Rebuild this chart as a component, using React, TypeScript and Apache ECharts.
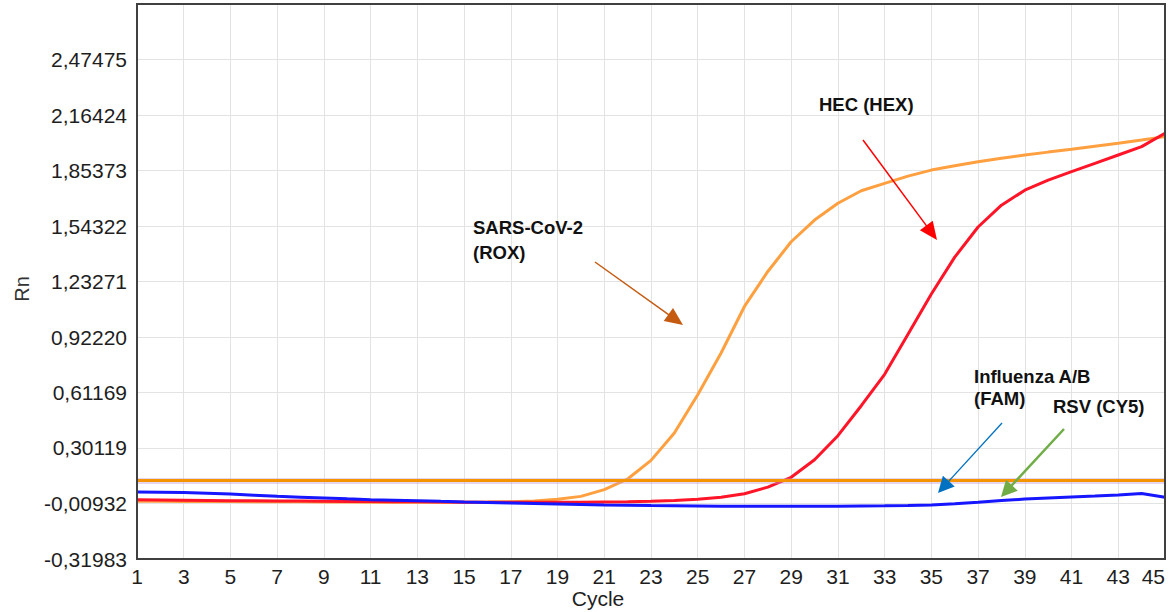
import React, { useEffect, useRef } from "react";
import * as echarts from "echarts";

// ---------- DATA ----------
const CYCLES = [
  "1", "2", "3", "4", "5", "6", "7", "8", "9", "10",
  "11", "12", "13", "14", "15", "16", "17", "18", "19", "20",
  "21", "22", "23", "24", "25", "26", "27", "28", "29", "30",
  "31", "32", "33", "34", "35", "36", "37", "38", "39", "40",
  "41", "42", "43", "44", "45",
];

const Y_MIN = -0.31983;
const Y_MAX = 2.78526;
const Y_TICKS = [-0.31983, -0.00932, 0.30119, 0.61169, 0.9222, 1.23271, 1.54322, 1.85373, 2.16424, 2.47475];

const THRESHOLD = 0.12;

// SARS-CoV-2 (ROX)
const ROX = [
  0.0037, 0.0031, 0.0025, 0.002, 0.0014, 0.0009, 0.0003, -0.0002, -0.0008, -0.0013,
  -0.0017, -0.0019, -0.002, -0.002, -0.0019, -0.0012, 0.0009, 0.0048, 0.0149, 0.0305,
  0.068, 0.1278, 0.2319, 0.3851, 0.5993, 0.8325, 1.0931, 1.2889, 1.455, 1.5763,
  1.6703, 1.7402, 1.7816, 1.8224, 1.856, 1.88, 1.903, 1.922, 1.9404, 1.9566,
  1.9723, 1.9891, 2.0059, 2.0238, 2.0433,
];

// HEC (HEX)
const HEX = [
  0.0121, 0.0107, 0.0093, 0.0079, 0.0065, 0.0056, 0.0048, 0.004, 0.0031, 0.0023,
  0.0015, 0.0006, -0.0002, -0.0011, -0.0019, -0.0022, -0.0025, -0.0025, -0.0025, -0.0019,
  -0.0008, 0.0003, 0.0026, 0.0076, 0.0149, 0.026, 0.0456, 0.082, 0.1373, 0.2358,
  0.37, 0.5378, 0.7134, 0.9382, 1.163, 1.3688, 1.5377, 1.6597, 1.7436, 1.8,
  1.847, 1.8934, 1.9404, 1.9874, 2.0623,
];

// Influenza A/B (FAM) / RSV (CY5)
const FAM_CY5 = [
  0.0551, 0.054, 0.0529, 0.0484, 0.044, 0.0373, 0.0306, 0.0261, 0.0216, 0.0166,
  0.0121, 0.0093, 0.0065, 0.0026, -0.0008, -0.0036, -0.0064, -0.0092, -0.012, -0.0148,
  -0.0176, -0.0193, -0.021, -0.0221, -0.0232, -0.0243, -0.0249, -0.0254, -0.0254, -0.0254,
  -0.0249, -0.0238, -0.0226, -0.0204, -0.0171, -0.0104, -0.0025, 0.007, 0.0154, 0.0221,
  0.0277, 0.0327, 0.0383, 0.0467, 0.0261,
];

// ---------- LAYOUT ----------
const W = 1173;
const H = 612;
const GRID = { left: 137, top: 4, right: 8, bottom: 53 };
const FONT = '"Liberation Sans", Arial, sans-serif';

function arrow(x1: number, y1: number, x2: number, y2: number, color: string, width: number, headLen: number, headHalf: number) {
  const dx = x2 - x1;
  const dy = y2 - y1;
  const len = Math.hypot(dx, dy);
  const ux = dx / len;
  const uy = dy / len;
  const bx = x2 - ux * headLen;
  const by = y2 - uy * headLen;
  const px = -uy;
  const py = ux;
  return [
    {
      type: "line",
      z: 100,
      silent: true,
      shape: { x1, y1, x2: bx + ux * 2, y2: by + uy * 2 },
      style: { stroke: color, lineWidth: width },
    },
    {
      type: "polygon",
      z: 100,
      silent: true,
      shape: {
        points: [
          [x2, y2],
          [bx + px * headHalf, by + py * headHalf],
          [bx - px * headHalf, by - py * headHalf],
        ],
      },
      style: { fill: color },
    },
  ];
}

function label(text: string, x: number, y: number, lineHeight: number) {
  return {
    type: "text",
    z: 100,
    silent: true,
    x,
    y,
    style: {
      text,
      fill: "#111",
      font: `bold 18.5px ${FONT}`,
      fontFamily: FONT,
      fontWeight: "bold",
      fontSize: 18.5,
      lineHeight,
      align: "left",
      verticalAlign: "top",
      textAlign: "left",
      textVerticalAlign: "top",
    },
  };
}

export default function App() {
  const ref = useRef<HTMLDivElement>(null);

  useEffect(() => {
    if (!ref.current) return;
    const chart = echarts.init(ref.current, null, { renderer: "svg" });

    const plotW = W - GRID.left - GRID.right;
    const plotH = H - GRID.top - GRID.bottom;

    const lineSeries = (name: string, data: number[], color: string) => ({
      name,
      type: "line",
      data,
      symbol: "none",
      smooth: false,
      silent: true,
      lineStyle: { color, width: 3 },
      itemStyle: { color },
      emphasis: { disabled: true },
    });

    const fam: any = lineSeries("Influenza A/B (FAM) / RSV (CY5)", FAM_CY5, "#1616FF");
    fam.markLine = {
      silent: true,
      symbol: "none",
      label: { show: false },
      emphasis: { disabled: true },
      data: [
        { yAxis: THRESHOLD, lineStyle: { color: "rgba(190,150,210,0.4)", width: 6, type: "solid" } },
        { yAxis: THRESHOLD, lineStyle: { color: "#F39400", width: 3, type: "solid" } },
      ],
    };

    const option: any = {
      animation: false,
      backgroundColor: "#ffffff",
      grid: { ...GRID, show: false },
      xAxis: {
        type: "category",
        data: CYCLES,
        boundaryGap: false,
        axisLine: { show: false },
        axisTick: { show: false },
        axisLabel: {
          interval: 1,
          color: "#1e1e1e",
          fontSize: 21,
          fontFamily: FONT,
          margin: 7,
          alignMaxLabel: "right",
        },
        splitLine: { show: true, interval: 1, lineStyle: { color: "#e3e3e3", width: 1 } },
      },
      yAxis: {
        type: "value",
        min: Y_MIN,
        max: Y_MAX,
        axisLine: { show: false },
        axisTick: { show: false, customValues: Y_TICKS },
        axisLabel: {
          customValues: Y_TICKS,
          formatter: (v: number) => v.toFixed(5).replace(".", ","),
          color: "#1e1e1e",
          fontSize: 21,
          fontFamily: FONT,
          margin: 10,
        },
        splitLine: { show: true, lineStyle: { color: "#e3e3e3", width: 1 } },
      },
      series: [
        lineSeries("SARS-CoV-2 (ROX)", ROX, "#FFA040"),
        lineSeries("HEC (HEX)", HEX, "#FF1428"),
        fam,
      ],
      graphic: [
        {
          type: "rect",
          z: 90,
          silent: true,
          shape: { x: GRID.left, y: GRID.top, width: plotW, height: plotH },
          style: { fill: "none", stroke: "#404040", lineWidth: 2 },
        },
        {
          type: "text",
          z: 100,
          silent: true,
          x: 598,
          y: 588,
          style: {
            text: "Cycle",
            fill: "#1e1e1e",
            fontFamily: FONT,
            fontSize: 21,
            align: "center",
            verticalAlign: "top",
            textAlign: "center",
            textVerticalAlign: "top",
          },
        },
        {
          type: "text",
          z: 100,
          silent: true,
          x: 22,
          y: 289,
          rotation: Math.PI / 2,
          style: {
            text: "Rn",
            fill: "#333",
            fontFamily: FONT,
            fontSize: 20,
            align: "center",
            verticalAlign: "middle",
            textAlign: "center",
            textVerticalAlign: "middle",
          },
        },
        label("HEC (HEX)", 819, 93, 22),
        label("SARS-CoV-2\n(ROX)", 473, 215, 25),
        label("Influenza A/B\n(FAM)", 974, 365, 22),
        label("RSV (CY5)", 1053, 395, 22),
        ...arrow(863, 140, 937, 240, "#FF0000", 1.5, 18, 8),
        ...arrow(595, 262, 683, 325, "#C55A11", 1.5, 18, 8),
        ...arrow(1002, 423, 938, 493, "#0070C0", 1.3, 16, 8),
        ...arrow(1064, 429, 1001, 497, "#70AD47", 2.5, 16, 8),
      ],
    };

    chart.setOption(option);
    return () => chart.dispose();
  }, []);

  return (
    <div
      ref={ref}
      style={{ position: "fixed", left: 0, top: 0, width: W, height: H, background: "#fff" }}
    />
  );
}
